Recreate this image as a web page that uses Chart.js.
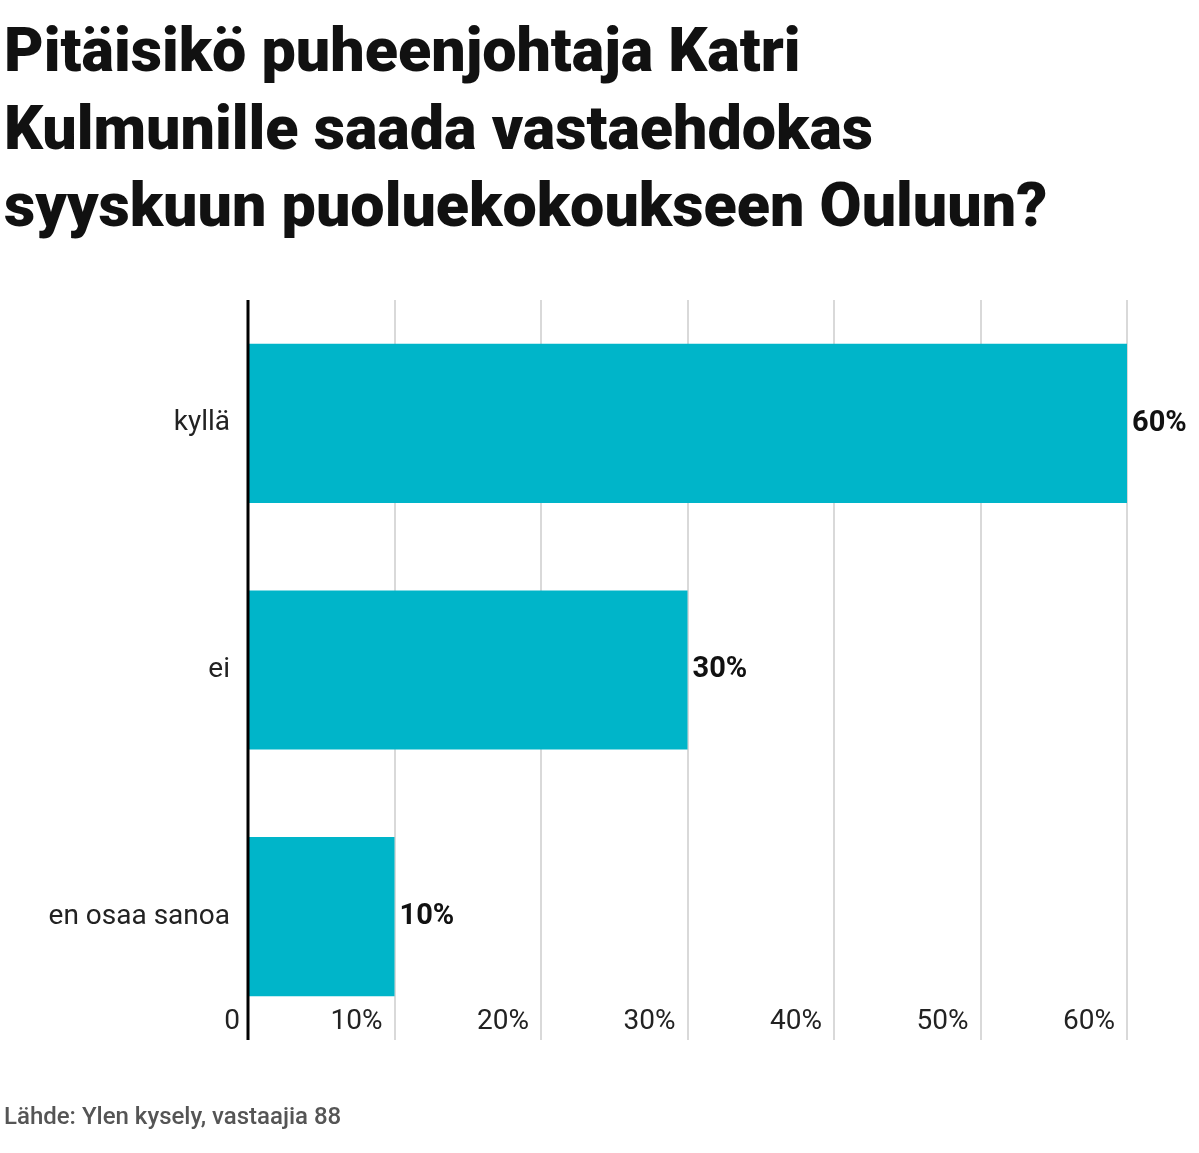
<!DOCTYPE html>
<html><head><meta charset="utf-8">
<script src="https://cdn.jsdelivr.net/npm/chart.js@4"></script>
<style>
html,body{margin:0;padding:0;background:#fff;width:1199px;height:1153px;overflow:hidden;font-family:Roboto,sans-serif}
#t{position:absolute;left:4px;top:12px;font-weight:900;font-size:61px;line-height:77.5px;color:#111;margin:0;white-space:nowrap}
#s{position:absolute;left:4px;top:1102px;font-size:24px;font-weight:500;color:#555}
#w{position:absolute;left:0;top:0;width:1199px;height:1153px}
</style></head><body>
<div id="w"><canvas id="c" width="1199" height="1153"></canvas></div>
<h1 id="t">Pitäisikö puheenjohtaja Katri<br>Kulmunille saada vastaehdokas<br>syyskuun puoluekokoukseen Ouluun?</h1>
<div id="s">Lähde: Ylen kysely, vastaajia 88</div>
<script>
const categories=["kyllä","ei","en osaa sanoa"];
const values=[60,30,10];
const tickValues=[0,10,20,30,40,50,60];
const tickLabels=["0","10%","20%","30%","40%","50%","60%"];
const plug={id:'p',afterDatasetsDraw(ch){
 const c=ch.ctx,x=ch.scales.x,a=ch.chartArea;
 c.save();c.font='28px Roboto';c.fillStyle='#222';c.textAlign='right';c.textBaseline='middle';
 tickValues.forEach((v,i)=>{c.fillText(tickLabels[i],x.getPixelForValue(v)-(i?12:8),a.bottom-18);});
 c.font='bold 29px Roboto';c.fillStyle='#111';c.textAlign='left';
 const m=ch.getDatasetMeta(0);
 m.data.forEach((b,i)=>c.fillText(values[i]+'%',b.x+5,b.y));
 c.strokeStyle='#000';c.lineWidth=3;c.beginPath();c.moveTo(a.left,a.top);c.lineTo(a.left,a.bottom);c.stroke();
 c.restore();}};
new Chart(document.getElementById('c'),{type:'bar',
data:{labels:categories,datasets:[{data:values,backgroundColor:'#00b5c9',barPercentage:0.645,categoryPercentage:1}]},
options:{indexAxis:'y',responsive:false,animation:false,
layout:{padding:{left:0,right:72,top:300,bottom:113}},
plugins:{legend:{display:false},tooltip:{enabled:false}},
scales:{x:{min:0,max:60,ticks:{display:false,stepSize:10},grid:{color:'#d9d9d9',lineWidth:2,drawTicks:false},border:{display:false}},
y:{afterFit(s){s.width=248;},ticks:{color:'#222',font:{size:28,family:'Roboto'},padding:10},grid:{display:false},border:{display:false}}}},
plugins:[plug]});
</script></body></html>
